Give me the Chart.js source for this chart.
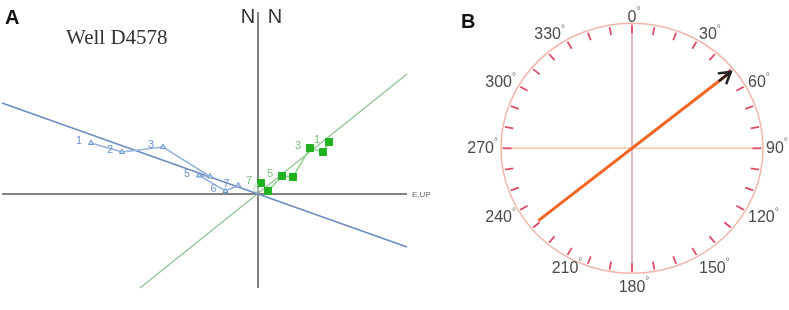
<!DOCTYPE html>
<html>
<head>
<meta charset="utf-8">
<script src="https://cdn.jsdelivr.net/npm/chart.js@4.4.0/dist/chart.umd.min.js"></script>
<style>
  html, body { margin: 0; padding: 0; background: #fff; width: 789px; height: 310px; overflow: hidden; }
  #wrapA { position: absolute; left: 0; top: 0; width: 440px; height: 310px; }
  #wrapB { position: absolute; left: 440px; top: 0; width: 349px; height: 310px; }
</style>
</head>
<body>
<div id="wrapA"><canvas id="chartA" width="440" height="310"></canvas></div>
<div id="wrapB"><canvas id="chartB" width="349" height="310"></canvas></div>

<script>
  // ---- Panel A: vector component plot (arbitrary units) ----
  const blueX = [-16.7, -13.6, -9.5, -4.8, -5.9, -3.25, -1.97];
  const blueY = [5.1, 4.2, 4.7, 1.75, 1.85, 0.3, 0.85];
  const blueLabels = ['1', '2', '3', '', '5', '6', '7'];

  const greenX = [7.1, 6.5, 5.2, 3.5, 2.4, 1.0, 0.3];
  const greenY = [5.2, 4.2, 4.6, 1.7, 1.8, 0.3, 1.1];
  const greenLabels = ['1', '', '3', '', '5', '6', '7'];

  const blueFitX = [-25.6, 14.9];
  const blueFitY = [9.1, -5.3];
  const greenFitX = [-11.8, 14.9];
  const greenFitY = [-9.4, 12.0];

  const axisXRange = [-25.6, 14.9];
  const axisYRange = [-9.4, 18.2];

  // ---- Panel B: compass ----
  const compassLabels = [0, 30, 60, 90, 120, 150, 180, 210, 240, 270, 300, 330];
  const meanDeclination = 51;
  const arrowTail = 0.92;
  const arrowHead = 0.97;

  const SANS = '"Liberation Sans", Arial, sans-serif';

  function pts(xs, ys) {
    return xs.map((x, i) => ({ x: x, y: ys[i] }));
  }

  const panelAText = {
    id: 'panelAText',
    afterDatasetsDraw(chart) {
      const ctx = chart.ctx;
      const sx = chart.scales.x, sy = chart.scales.y;
      ctx.save();

      ctx.fillStyle = '#111';
      ctx.font = 'bold 20px ' + SANS;
      ctx.textAlign = 'left';
      ctx.textBaseline = 'middle';
      ctx.fillText('A', 5, 18);

      ctx.fillStyle = '#333';
      ctx.font = '21px "Liberation Serif", "Times New Roman", serif';
      ctx.textBaseline = 'alphabetic';
      ctx.fillText('Well D4578', 66, 44);

      ctx.font = '20px ' + SANS;
      ctx.textAlign = 'center';
      ctx.fillText('N', 248, 23);
      ctx.fillText('N', 275, 23);

      ctx.fillStyle = '#666';
      ctx.font = '8px ' + SANS;
      ctx.textAlign = 'left';
      ctx.textBaseline = 'middle';
      ctx.fillText('E,UP', sx.getPixelForValue(axisXRange[1]) + 5, sy.getPixelForValue(0) + 1);

      ctx.font = '11px ' + SANS;
      ctx.textAlign = 'center';
      ctx.fillStyle = '#6d92c9';
      blueLabels.forEach((t, i) => {
        if (!t) return;
        ctx.fillText(t, sx.getPixelForValue(blueX[i]) - 12, sy.getPixelForValue(blueY[i]) - 2);
      });
      greenLabels.forEach((t, i) => {
        if (!t) return;
        ctx.fillStyle = t === '6' ? '#bfe0bf' : '#78c278';
        ctx.fillText(t, sx.getPixelForValue(greenX[i]) - 12, sy.getPixelForValue(greenY[i]) - 2);
      });
      ctx.restore();
    }
  };

  new Chart(document.getElementById('chartA').getContext('2d'), {
    type: 'scatter',
    data: {
      datasets: [
        {
          data: pts(greenX, greenY), showLine: true, order: 1,
          borderColor: '#8fd48f', borderWidth: 1.5,
          pointStyle: 'rect', pointRadius: 4.5,
          pointBackgroundColor: '#1fb21f', pointBorderColor: '#1fb21f'
        },
        {
          data: pts(blueX, blueY), showLine: true, order: 2,
          borderColor: '#93b3da', borderWidth: 1.5,
          pointStyle: 'triangle', pointRadius: 3,
          pointBackgroundColor: '#c3d6f0', pointBorderColor: '#6d96cf', pointBorderWidth: 1
        },
        {
          data: pts(blueFitX, blueFitY), showLine: true, order: 3,
          borderColor: '#6d8cbf', borderWidth: 1.5, pointRadius: 0
        },
        {
          data: pts(greenFitX, greenFitY), showLine: true, order: 4,
          borderColor: '#95c495', borderWidth: 1.4, pointRadius: 0
        },
        {
          data: [{ x: axisXRange[0], y: 0 }, { x: axisXRange[1], y: 0 }], showLine: true, order: 5,
          borderColor: '#5a5a5a', borderWidth: 1.5, pointRadius: 0
        },
        {
          data: [{ x: 0, y: axisYRange[0] }, { x: 0, y: axisYRange[1] }], showLine: true, order: 6,
          borderColor: '#5a5a5a', borderWidth: 1.5, pointRadius: 0
        }
      ]
    },
    options: {
      responsive: false,
      animation: false,
      layout: { padding: 0, autoPadding: false },
      plugins: { legend: { display: false }, tooltip: { enabled: false } },
      scales: {
        x: { type: 'linear', display: false, min: -25.8, max: 18.2 },
        y: { type: 'linear', display: false, min: -11.6, max: 19.4 }
      }
    },
    plugins: [panelAText]
  });

  // ---- Panel B ----
  const rad = d => d * Math.PI / 180;
  const decS = Math.sin(rad(meanDeclination));
  const decC = Math.cos(rad(meanDeclination));

  const compassFrame = {
    id: 'compassFrame',
    beforeDatasetsDraw(chart) {
      const ctx = chart.ctx;
      const sx = chart.scales.x, sy = chart.scales.y;
      const cx = sx.getPixelForValue(0), cy = sy.getPixelForValue(0);
      const rx = sx.getPixelForValue(1) - cx, ry = cy - sy.getPixelForValue(1);
      ctx.save();

      // cross lines
      ctx.lineWidth = 1.5;
      ctx.strokeStyle = '#f5c6a8';
      ctx.beginPath(); ctx.moveTo(cx - rx, cy); ctx.lineTo(cx + rx, cy); ctx.stroke();
      ctx.strokeStyle = '#d6a6a6';
      ctx.beginPath(); ctx.moveTo(cx, cy - ry); ctx.lineTo(cx, cy + ry); ctx.stroke();

      // outer circle
      ctx.strokeStyle = '#f1b6a9';
      ctx.lineWidth = 1.5;
      ctx.beginPath(); ctx.ellipse(cx, cy, rx, ry, 0, 0, Math.PI * 2); ctx.stroke();

      // ticks every 10 degrees
      ctx.strokeStyle = '#dd4c66';
      ctx.lineWidth = 1.8;
      for (let a = 0; a < 360; a += 10) {
        const s = Math.sin(rad(a)), c = Math.cos(rad(a));
        ctx.beginPath();
        ctx.moveTo(cx + rx * 0.92 * s, cy - ry * 0.92 * c);
        ctx.lineTo(cx + rx * 0.985 * s, cy - ry * 0.985 * c);
        ctx.stroke();
      }

      // degree labels
      ctx.textBaseline = 'middle';
      ctx.textAlign = 'left';
      compassLabels.forEach(a => {
        const s = Math.sin(rad(a)), c = Math.cos(rad(a));
        const x = cx + (rx + 3) * s;
        let y = cy - (ry + 6) * c;
        if (c < -0.3) y += 8 * (-c);
        const num = String(a);
        ctx.font = '16px ' + SANS;
        const wn = ctx.measureText(num).width;
        ctx.font = '10px ' + SANS;
        const wd = ctx.measureText('°').width;
        let left;
        if (s > 0.3) left = x;
        else if (s < -0.6 || (s < -0.3 && c > 0)) left = x - wn - wd;
        else left = x - wn / 2;
        ctx.fillStyle = '#4a4a4a';
        ctx.font = '16px ' + SANS;
        ctx.fillText(num, left, y);
        ctx.fillStyle = '#777';
        ctx.font = '10px ' + SANS;
        ctx.fillText('°', left + wn, y - 6);
      });
      ctx.restore();
    },
    afterDatasetsDraw(chart) {
      const ctx = chart.ctx;
      const sx = chart.scales.x, sy = chart.scales.y;
      const tipX = sx.getPixelForValue(arrowHead * decS);
      const tipY = sy.getPixelForValue(arrowHead * decC);
      const tailX = sx.getPixelForValue(-arrowTail * decS);
      const tailY = sy.getPixelForValue(-arrowTail * decC);
      const ang = Math.atan2(tipY - tailY, tipX - tailX);
      ctx.save();
      ctx.strokeStyle = '#222';
      ctx.lineWidth = 2.5;
      ctx.lineCap = 'round';
      ctx.beginPath();
      ctx.moveTo(tipX - 14 * Math.cos(ang), tipY - 14 * Math.sin(ang));
      ctx.lineTo(tipX, tipY);
      ctx.stroke();
      ctx.beginPath();
      ctx.moveTo(tipX - 12 * Math.cos(ang - 0.55), tipY - 12 * Math.sin(ang - 0.55));
      ctx.lineTo(tipX, tipY);
      ctx.lineTo(tipX - 12 * Math.cos(ang + 0.55), tipY - 12 * Math.sin(ang + 0.55));
      ctx.stroke();
      ctx.restore();
    }
  };

  new Chart(document.getElementById('chartB').getContext('2d'), {
    type: 'scatter',
    data: {
      datasets: [
        {
          data: [
            { x: -arrowTail * decS, y: -arrowTail * decC },
            { x: arrowHead * decS, y: arrowHead * decC }
          ],
          showLine: true,
          borderColor: '#f26522',
          borderWidth: 3,
          pointRadius: 0
        }
      ]
    },
    options: {
      responsive: false,
      animation: false,
      layout: { padding: 0, autoPadding: false },
      plugins: { legend: { display: false }, tooltip: { enabled: false } },
      scales: {
        x: { type: 'linear', display: false, min: -1.4656, max: 1.1985 },
        y: { type: 'linear', display: false, min: -1.2936, max: 1.1864 }
      }
    },
    plugins: [compassFrame]
  });

  // panel letter B
  (function () {
    const ctx = document.getElementById('chartB').getContext('2d');
    ctx.save();
    ctx.fillStyle = '#111';
    ctx.font = 'bold 20px ' + SANS;
    ctx.textBaseline = 'middle';
    ctx.fillText('B', 21, 22);
    ctx.restore();
  })();
</script>
</body>
</html>
